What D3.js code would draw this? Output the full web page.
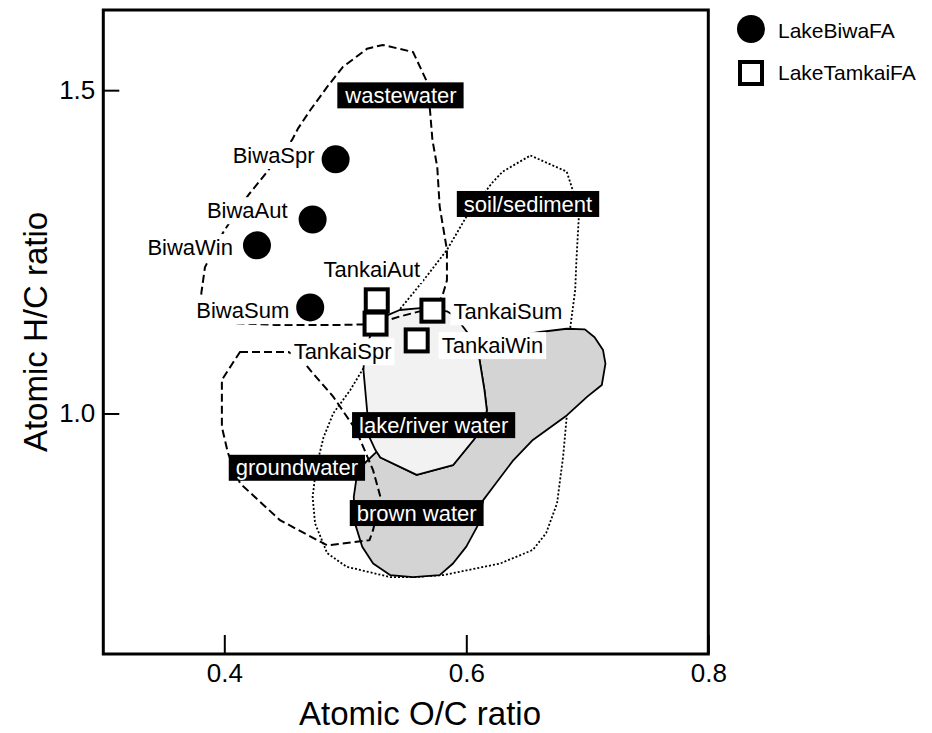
<!DOCTYPE html>
<html>
<head>
<meta charset="utf-8">
<script src="https://cdn.jsdelivr.net/npm/d3@7"></script>
<style>
  body { margin: 0; background: #ffffff; }
  svg { display: block; }
  text { font-family: "Liberation Sans", Arial, Helvetica, sans-serif; }
</style>
</head>
<body>
<svg id="chart" width="932" height="733"></svg>
<script>
// ---- data ----------------------------------------------------------
const xTicks = [0.4, 0.6, 0.8];
const yTicks = [1.0, 1.5];

// Lake Biwa fulvic acids (filled circles)
const biwaNames = ["BiwaSpr", "BiwaAut", "BiwaWin", "BiwaSum"];
const biwaOC    = [0.492, 0.473, 0.427, 0.471];
const biwaHC    = [1.393, 1.300, 1.260, 1.164];

// Lake Tankai fulvic acids (open squares)
const tankaiNames = ["TankaiAut", "TankaiSpr", "TankaiSum", "TankaiWin"];
const tankaiOC    = [0.526, 0.525, 0.572, 0.559];
const tankaiHC    = [1.175, 1.139, 1.159, 1.113];

// Source-type fields, [O/C, H/C] vertices
const wastewaterOutline = [
  [0.384,1.147],[0.381,1.186],[0.384,1.226],[0.392,1.256],[0.400,1.283],[0.410,1.311],
  [0.420,1.338],[0.435,1.373],[0.446,1.399],[0.456,1.423],[0.461,1.441],[0.471,1.469],
  [0.485,1.505],[0.498,1.536],[0.518,1.564],[0.531,1.570],[0.556,1.559],[0.567,1.515],
  [0.570,1.469],[0.572,1.423],[0.576,1.381],[0.578,1.320],[0.584,1.253],[0.584,1.206],
  [0.580,1.180],[0.572,1.163],[0.545,1.150],[0.525,1.138],[0.496,1.137],[0.442,1.137],
  [0.405,1.140]
];
const soilOutline = [
  [0.653,1.399],[0.683,1.374],[0.688,1.345],[0.693,1.304],[0.691,1.237],[0.690,1.191],
  [0.686,1.134],[0.684,1.062],[0.683,0.995],[0.680,0.933],[0.675,0.861],[0.666,0.815],
  [0.655,0.789],[0.628,0.768],[0.581,0.750],[0.556,0.747],[0.537,0.747],[0.501,0.763],
  [0.485,0.784],[0.475,0.830],[0.473,0.871],[0.476,0.917],[0.482,0.963],[0.490,1.000],
  [0.504,1.036],[0.515,1.070],[0.527,1.113],[0.541,1.152],[0.556,1.186],[0.568,1.214],
  [0.584,1.253],[0.600,1.304],[0.621,1.356],[0.630,1.374]
];
const groundwaterOutline = [
  [0.413,1.095],[0.453,1.095],[0.463,1.086],[0.471,1.067],[0.490,1.026],[0.509,0.974],
  [0.523,0.912],[0.529,0.871],[0.523,0.820],[0.520,0.804],[0.485,0.796],[0.446,0.835],
  [0.413,0.892],[0.403,0.939],[0.398,0.979],[0.398,1.052],[0.407,1.078]
];
const lakeOutline = [
  [0.535,1.152],[0.545,1.160],[0.562,1.163],[0.584,1.158],[0.591,1.150],[0.597,1.135],
  [0.603,1.120],[0.609,1.101],[0.611,1.082],[0.615,1.036],[0.617,1.005],[0.614,0.980],
  [0.606,0.959],[0.589,0.920],[0.559,0.905],[0.529,0.932],[0.525,0.943],[0.520,0.963],
  [0.518,1.005],[0.515,1.067],[0.516,1.098],[0.522,1.126]
];
const brownOutline = [
  [0.609,1.101],[0.611,1.082],[0.615,1.036],[0.617,1.005],[0.614,0.980],[0.606,0.959],
  [0.589,0.920],[0.559,0.905],[0.529,0.932],[0.526,0.941],[0.516,0.923],[0.509,0.897],
  [0.507,0.871],[0.508,0.830],[0.514,0.794],[0.523,0.768],[0.537,0.750],[0.556,0.747],
  [0.578,0.750],[0.589,0.768],[0.600,0.794],[0.609,0.825],[0.614,0.866],[0.622,0.886],
  [0.639,0.928],[0.655,0.959],[0.683,0.997],[0.700,1.026],[0.712,1.044],[0.715,1.077],
  [0.713,1.098],[0.706,1.118],[0.698,1.130],[0.683,1.131],[0.661,1.126],[0.628,1.116]
];

// Field names and where each tag sits, [O/C, H/C]
const fieldNames = ["wastewater", "soil/sediment", "lake/river water", "groundwater", "brown water"];
const fieldTagAt = [[0.546,1.492],[0.651,1.324],[0.573,0.982],[0.460,0.916],[0.559,0.846]];

const legendNames = ["LakeBiwaFA", "LakeTamkaiFA"];

// ---- layout ----------------------------------------------------------
const svg = d3.select("#chart");
const x = d3.scaleLinear().domain([0.3, 0.8]).range([103.3, 708.3]);
const y = d3.scaleLinear().domain([0.628, 1.624]).range([654, 10]);

// point-label placement (pixel offsets from the marker, text anchor)
const labelPlace = {
  BiwaSpr:   { dx: -21, dy: -4,  anchor: "end" },
  BiwaAut:   { dx: -25, dy: -9,  anchor: "end" },
  BiwaWin:   { dx: -24, dy: 2,   anchor: "end" },
  BiwaSum:   { dx: -21, dy: 3,   anchor: "end" },
  TankaiAut: { dx: -5,  dy: -31, anchor: "middle" },
  TankaiSpr: { dx: -33, dy: 28,  anchor: "middle" },
  TankaiSum: { dx: 21,  dy: 1,   anchor: "start" },
  TankaiWin: { dx: 25,  dy: 5,   anchor: "start" }
};

const outline = d3.line().x(d => x(d[0])).y(d => y(d[1])).curve(d3.curveLinearClosed);

const plot = svg.append("g");

// soil/sediment field – dotted
plot.append("path").attr("d", outline(soilOutline))
  .attr("fill", "none").attr("stroke", "#000").attr("stroke-width", 1.8)
  .attr("stroke-dasharray", "2,2");

// brown water field – grey
plot.append("path").attr("d", outline(brownOutline))
  .attr("fill", "#d4d4d4").attr("stroke", "#000").attr("stroke-width", 1.8)
  .attr("stroke-linejoin", "round");

// lake/river water field – very light grey
plot.append("path").attr("d", outline(lakeOutline))
  .attr("fill", "#f2f2f2").attr("stroke", "#000").attr("stroke-width", 1.8)
  .attr("stroke-linejoin", "round");

// groundwater and wastewater fields – dashed
[groundwaterOutline, wastewaterOutline].forEach(o => {
  plot.append("path").attr("d", outline(o))
    .attr("fill", "none").attr("stroke", "#000").attr("stroke-width", 2)
    .attr("stroke-dasharray", "8,4");
});

// field tags: white text on black
fieldNames.forEach((name, i) => {
  const g = plot.append("g");
  const t = g.append("text")
    .attr("x", x(fieldTagAt[i][0])).attr("y", y(fieldTagAt[i][1]))
    .attr("dy", "0.35em").attr("text-anchor", "middle")
    .attr("font-size", 22).attr("fill", "#fff").text(name);
  const bb = t.node().getBBox();
  g.insert("rect", "text")
    .attr("x", bb.x - 7).attr("y", y(fieldTagAt[i][1]) - 13)
    .attr("width", bb.width + 14).attr("height", 26)
    .attr("fill", "#000");
});

// sample label with white backing
function sampleLabel(name, px, py) {
  const p = labelPlace[name];
  const g = plot.append("g");
  const t = g.append("text")
    .attr("x", px + p.dx).attr("y", py + p.dy)
    .attr("dy", "0.35em").attr("text-anchor", p.anchor)
    .attr("font-size", 22).attr("fill", "#000").text(name);
  const bb = t.node().getBBox();
  g.insert("rect", "text")
    .attr("x", bb.x - 3).attr("y", bb.y - 1)
    .attr("width", bb.width + 6).attr("height", bb.height + 2)
    .attr("fill", "#fff");
}

// Lake Biwa points
biwaNames.forEach((n, i) => {
  plot.append("circle").attr("cx", x(biwaOC[i])).attr("cy", y(biwaHC[i]))
    .attr("r", 14).attr("fill", "#000");
  sampleLabel(n, x(biwaOC[i]), y(biwaHC[i]));
});

// Lake Tankai points
const sq = 22;
tankaiNames.forEach((n, i) => {
  plot.append("rect")
    .attr("x", x(tankaiOC[i]) - sq / 2).attr("y", y(tankaiHC[i]) - sq / 2)
    .attr("width", sq).attr("height", sq)
    .attr("fill", "#fff").attr("stroke", "#000").attr("stroke-width", 4);
});
tankaiNames.forEach((n, i) => sampleLabel(n, x(tankaiOC[i]), y(tankaiHC[i])));

// ---- axes ------------------------------------------------------------
const fmt = d3.format(".1f");
const xAxis = svg.append("g").attr("transform", `translate(0,${y.range()[0]})`)
  .call(d3.axisBottom(x).tickValues(xTicks).tickFormat(fmt).tickSize(-19).tickPadding(10));
const yAxis = svg.append("g").attr("transform", `translate(${x.range()[0]},0)`)
  .call(d3.axisLeft(y).tickValues(yTicks).tickFormat(fmt).tickSize(-16).tickPadding(8));
[xAxis, yAxis].forEach(a => {
  a.select(".domain").remove();
  a.selectAll(".tick line").attr("stroke", "#000").attr("stroke-width", 2);
  a.selectAll(".tick text").attr("font-size", 26).attr("fill", "#000")
    .attr("font-family", "\"Liberation Sans\", Arial, sans-serif");
});

// plot frame
svg.append("rect")
  .attr("x", x.range()[0]).attr("y", y.range()[1])
  .attr("width", x.range()[1] - x.range()[0]).attr("height", y.range()[0] - y.range()[1])
  .attr("fill", "none").attr("stroke", "#000").attr("stroke-width", 3);

// axis titles
svg.append("text").attr("x", 420).attr("y", 725).attr("text-anchor", "middle")
  .attr("font-size", 33).attr("fill", "#000").text("Atomic O/C ratio");
svg.append("text").attr("transform", "translate(47,332) rotate(-90)")
  .attr("text-anchor", "middle").attr("font-size", 33).attr("fill", "#000")
  .text("Atomic H/C ratio");

// ---- legend ----------------------------------------------------------
const leg = svg.append("g");
leg.append("circle").attr("cx", 751).attr("cy", 29).attr("r", 14).attr("fill", "#000");
leg.append("rect").attr("x", 751 - sq / 2).attr("y", 73 - sq / 2)
  .attr("width", sq).attr("height", sq)
  .attr("fill", "#fff").attr("stroke", "#000").attr("stroke-width", 4);
legendNames.forEach((n, i) => {
  leg.append("text").attr("x", 778).attr("y", i === 0 ? 31 : 73).attr("dy", "0.35em")
    .attr("font-size", 21).attr("fill", "#000").text(n);
});
</script>
</body>
</html>
